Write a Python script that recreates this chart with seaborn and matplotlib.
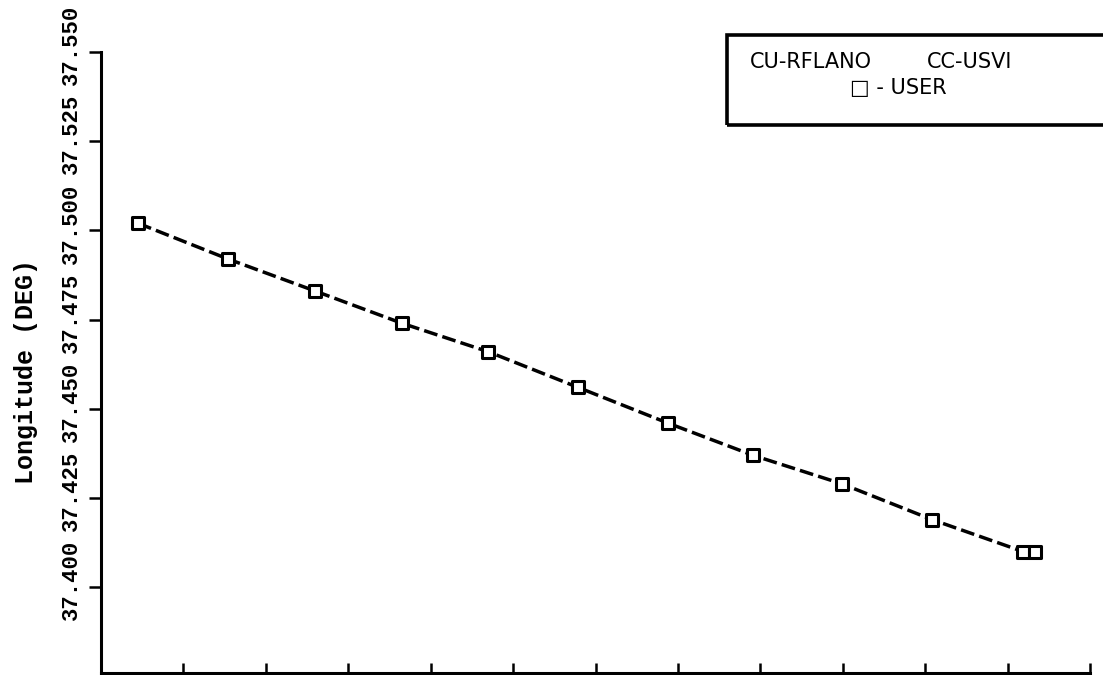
import matplotlib
matplotlib.use("Agg")
import matplotlib.pyplot as plt
import matplotlib.transforms as mtransforms
from matplotlib.patches import Rectangle
import seaborn as sns
import pandas as pd

# Position-fix samples (time index) and the user's computed longitude
sample_index = [0.45, 1.54, 2.60, 3.65, 4.70, 5.79, 6.88, 7.91, 8.99, 10.08, 11.19, 11.33]
longitude_deg = [37.502, 37.492, 37.483, 37.474, 37.466, 37.456, 37.446,
                 37.437, 37.429, 37.419, 37.410, 37.410]

y_ticks = [37.400, 37.425, 37.450, 37.475, 37.500, 37.525, 37.550]
y_tick_labels = ["37.400", "37.425", "37.450", "37.475", "37.500", "37.525", "37.550"]
x_ticks = list(range(1, 13))

legend_line1_left = "CU-RFLANO"
legend_line1_right = "CC-USVI"
legend_line2 = "\u25a1 - USER"
y_title = "Longitude (DEG)"

df = pd.DataFrame({"sample": sample_index, "longitude": longitude_deg})

sns.set_style("white")
plt.rcParams["font.family"] = ["DejaVu Sans"]
plt.rcParams["text.color"] = "black"
plt.rcParams["xtick.color"] = "black"
plt.rcParams["ytick.color"] = "black"

fig = plt.figure(figsize=(11.03, 6.75), dpi=100)
ax = fig.add_axes([0.0916, 0.003, 0.8966, 0.920])

sns.lineplot(data=df, x="sample", y="longitude", ax=ax, color="black",
             linewidth=2.5, dashes=False, sort=False)
ax.lines[0].set_dashes((4, 1.5))
sns.scatterplot(data=df, x="sample", y="longitude", ax=ax, marker="s",
                s=80, facecolor="white", edgecolor="black", linewidth=2.2,
                zorder=5)

ax.set_xlim(0, 12)
ax.set_ylim(37.376, 37.550)

ax.set_xticks(x_ticks)
ax.set_xticklabels([])
ax.set_yticks(y_ticks)
ax.set_yticklabels(y_tick_labels, rotation=90, va="center",
                   fontfamily="Liberation Mono", fontweight="bold", fontsize=16,
                   color="black")

ax.tick_params(axis="x", bottom=True, direction="in", length=7, width=1.8,
               color="black")
ax.tick_params(axis="y", left=True, direction="out", length=9, width=1.8,
               color="black", pad=5)

# nudge each label so its decimal point sits on the tick
shift = mtransforms.ScaledTranslation(0, 0.07, fig.dpi_scale_trans)
for lab in ax.get_yticklabels():
    lab.set_transform(lab.get_transform() + shift)

for side in ["top", "right"]:
    ax.spines[side].set_visible(False)
for side in ["left", "bottom"]:
    ax.spines[side].set_color("black")
    ax.spines[side].set_linewidth(2.2)

ax.set_xlabel("")
ax.set_ylabel("")
fig.text(0.024, 0.45, y_title, rotation=90, ha="center", va="center",
         fontfamily="Liberation Mono", fontweight="bold", fontsize=18,
         color="black")

# key box in the upper right corner, running off the page edge
box = Rectangle((0.659, 0.815), 0.40, 0.133, transform=fig.transFigure,
                fill=False, edgecolor="black", linewidth=2.6, clip_on=False)
fig.patches.append(box)
fig.text(0.680, 0.908, legend_line1_left, ha="left", va="center", fontsize=15,
         color="black")
fig.text(0.840, 0.908, legend_line1_right, ha="left", va="center", fontsize=15,
         color="black")
fig.text(0.771, 0.870, legend_line2, ha="left", va="center", fontsize=15,
         color="black")

fig.savefig("out.png", dpi=100, facecolor="white")
